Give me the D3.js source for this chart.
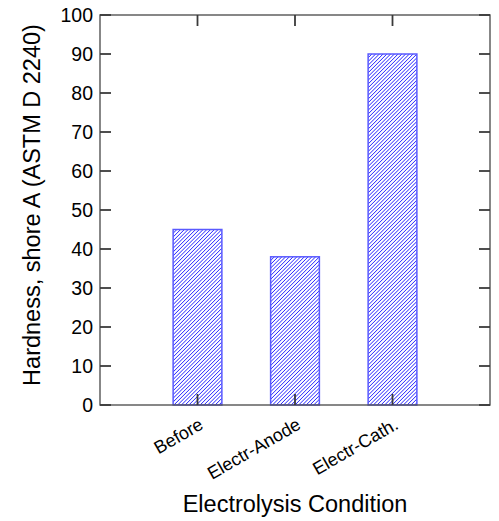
<!DOCTYPE html>
<html>
<head>
<meta charset="utf-8">
<script src="https://cdn.jsdelivr.net/npm/d3@7/dist/d3.min.js"></script>
<style>
  html, body { margin: 0; padding: 0; background: #fff; }
  svg { display: block; font-family: "Liberation Sans", Arial, sans-serif; }
</style>
</head>
<body>
<svg id="chart" width="499" height="521"></svg>
<script>
// Shore A hardness per electrolysis condition
const categories = ["Before", "Electr-Anode", "Electr-Cath."];
const hardness = [45, 38, 90];
const yTicks = [0, 10, 20, 30, 40, 50, 60, 70, 80, 90, 100];

const svg = d3.select("#chart");
const plotLeft = 100, plotRight = 490, plotTop = 15, plotBottom = 405;

const x = d3.scaleBand().domain(categories).range([plotLeft, plotRight])
  .paddingInner(0).paddingOuter(0.5);
const y = d3.scaleLinear().domain([0, 100]).range([plotBottom, plotTop]);
const cx = d => x(d) + x.bandwidth() / 2;

const bw = x.bandwidth() * 0.5;
const barX = d => cx(d) - bw / 2;

// each bar: white body, clipped diagonal hatch lines, blue outline
const hatchStep = 3.75;
const bars = svg.append("g");
categories.forEach((c, i) => {
  const x0 = barX(c), y0 = y(hardness[i]), h = y(0) - y(hardness[i]);
  const clipId = `clip-${i}`;
  svg.append("clipPath").attr("id", clipId)
    .append("rect").attr("x", x0).attr("y", y0).attr("width", bw).attr("height", h);
  const g = bars.append("g");
  g.append("rect").attr("x", x0).attr("y", y0).attr("width", bw).attr("height", h)
    .attr("fill", "#fff");
  const offsets = d3.range(-bw, h + bw, hatchStep);
  g.append("g").attr("clip-path", `url(#${clipId})`)
    .selectAll("line").data(offsets).join("line")
    .attr("x1", x0 - 2).attr("y1", o => y0 + o + bw + 2)
    .attr("x2", x0 + bw + 2).attr("y2", o => y0 + o - 2)
    .attr("stroke", "#0a0aff").attr("stroke-width", 0.9);
  g.append("rect").attr("x", x0).attr("y", y0).attr("width", bw).attr("height", h)
    .attr("fill", "none").attr("stroke", "#5a5aff").attr("stroke-width", 1.5);
});

const tl = 11;

// frame
svg.append("rect")
  .attr("x", plotLeft).attr("y", plotTop)
  .attr("width", plotRight - plotLeft).attr("height", plotBottom - plotTop)
  .attr("fill", "none").attr("stroke", "#555").attr("stroke-width", 1.4);

// inward ticks on all four sides
const tg = svg.append("g");
yTicks.forEach(v => {
  tg.append("line").attr("x1", plotLeft).attr("x2", plotLeft + tl)
    .attr("y1", y(v)).attr("y2", y(v));
  tg.append("line").attr("x1", plotRight).attr("x2", plotRight - tl)
    .attr("y1", y(v)).attr("y2", y(v));
});
categories.forEach(c => {
  tg.append("line").attr("x1", cx(c)).attr("x2", cx(c))
    .attr("y1", plotBottom).attr("y2", plotBottom - tl);
  tg.append("line").attr("x1", cx(c)).attr("x2", cx(c))
    .attr("y1", plotTop).attr("y2", plotTop + tl);
});
tg.selectAll("line").attr("stroke", "#3a3a3a").attr("stroke-width", 1.8);

// y tick labels
svg.append("g").attr("transform", `translate(${plotLeft},0)`)
  .call(d3.axisLeft(y).tickValues(yTicks).tickSize(0).tickPadding(7))
  .call(g => g.select(".domain").remove())
  .call(g => g.selectAll(".tick text")
    .attr("font-size", 19.5).attr("fill", "#000")
    .attr("font-family", "'Liberation Sans', Arial, sans-serif"));

// category labels, slanted
const xb = svg.append("g").attr("transform", `translate(0,${plotBottom})`)
  .call(d3.axisBottom(x).tickSize(0))
  .call(g => g.select(".domain").remove());
xb.selectAll(".tick text")
  .attr("font-size", 18).attr("fill", "#000")
  .attr("font-family", "'Liberation Sans', Arial, sans-serif")
  .attr("text-anchor", "end")
  .attr("dy", null)
  .attr("y", null)
  .attr("transform", "translate(7,23) rotate(-30)");

// axis titles
svg.append("text")
  .attr("x", (plotLeft + plotRight) / 2).attr("y", 512)
  .attr("text-anchor", "middle").attr("font-size", 23.5).attr("fill", "#000")
  .text("Electrolysis Condition");

svg.append("text")
  .attr("transform", `translate(40,205) rotate(-90)`)
  .attr("text-anchor", "middle").attr("font-size", 23.5).attr("fill", "#000")
  .text("Hardness, shore A (ASTM D 2240)");
</script>
</body>
</html>
